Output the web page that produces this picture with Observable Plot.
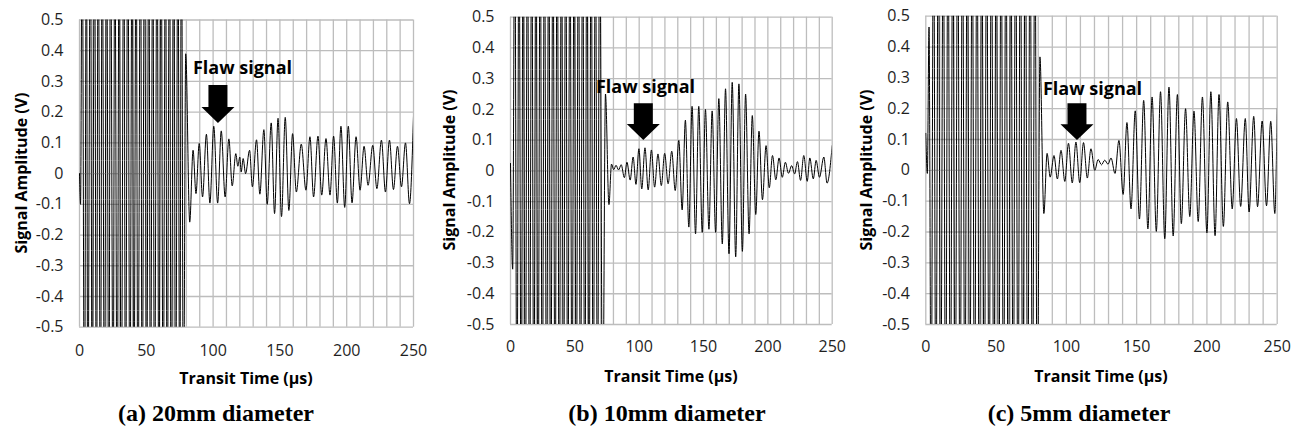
<!DOCTYPE html>
<html>
<head>
<meta charset="utf-8">
<script src="https://cdn.jsdelivr.net/npm/d3@7"></script>
<script src="https://cdn.jsdelivr.net/npm/@observablehq/plot@0.6"></script>
<style>
  html, body { margin: 0; padding: 0; background: #fff; }
  #page { position: relative; width: 1297px; height: 434px; overflow: hidden; }
  .panel { position: absolute; top: 0; overflow: hidden; }
  #titles { position: absolute; left: 0; top: 0; pointer-events: none; }
</style>
</head>
<body>
<div id="page"></div>
<script>
// ---------- data (time µs, amplitude V); ±0.9 = saturated beyond the axis ----------
const xTicks = [0, 50, 100, 150, 200, 250];
const yTicks = [-0.5, -0.4, -0.3, -0.2, -0.1, 0, 0.1, 0.2, 0.3, 0.4, 0.5];
const gridTimes = [0,10,20,30,40,50,60,70,80,90,100,110,120,130,140,150,160,170,180,190,200,210,220,230,240,250];

const captions = ["(a) 20mm diameter", "(b) 10mm diameter", "(c) 5mm diameter"];
const xTitle = "Transit Time (µs)";
const yTitle = "Signal Amplitude (V)";
const flawLabel = "Flaw signal";

const waveA = [
  [0,0],[0.8,-0.1],
  [2.0,0.9],[3.7,-0.9],[5.2,0.9],[6.2,-0.9],[8.2,0.9],[9.5,-0.9],[11.2,0.9],[12.7,-0.9],[14.0,0.9],[15.7,-0.9],
  [17.0,0.9],[18.7,-0.9],[20.2,0.9],[22.0,-0.9],[23.2,0.9],[25.2,-0.9],[26.4,0.9],[28.2,-0.9],[29.7,0.9],[31.2,-0.9],
  [33.2,0.9],[34.4,-0.9],[36.2,0.9],[37.7,-0.9],[39.4,0.9],[40.7,-0.9],[42.4,0.9],[43.7,-0.9],[45.7,0.9],[46.9,-0.9],
  [48.7,0.9],[50.2,-0.9],[51.9,0.9],[53.1,-0.9],[54.9,0.9],[56.1,-0.9],[58.1,0.9],[59.4,-0.9],[61.1,0.9],[62.6,-0.9],
  [64.4,0.9],[65.6,-0.9],[67.4,0.9],[68.6,-0.9],[70.6,0.9],[71.9,-0.9],[73.7,0.9],[75.0,-0.9],[76.3,0.9],[77.8,-0.9],
  [79.5,0.39],[82.5,-0.158],[85,0.076],[87.2,-0.065],[89.6,0.098],[92.1,-0.076],[95,0.128],[97.6,-0.096],
  [100.5,0.154],[103.4,-0.096],[106.1,0.139],[109,-0.076],[111.8,0.113],[114.3,-0.04],[117,0.065],[118.5,0.024],
  [120,0.054],[121,0.005],[122.5,0.049],[124.3,0],[127.3,0.076],[129.4,-0.043],[132.5,0.11],[135,-0.067],
  [138,0.143],[140.5,-0.1],[143.5,0.165],[146,-0.13],[148.6,0.18],[151.2,-0.14],[154,0.183],[156.7,-0.12],
  [159.5,0.13],[162.3,-0.06],[166,0.096],[169.5,-0.054],[172.5,0.12],[175.2,-0.076],[178.5,0.122],[181.3,-0.07],
  [184.5,0.114],[187.5,-0.07],[190.2,0.122],[193,-0.096],[195.7,0.154],[198.5,-0.11],[201.2,0.154],[204,-0.095],
  [207,0.12],[210,-0.054],[213,0.089],[216,-0.038],[219.5,0.092],[222.6,-0.049],[226,0.109],[229,-0.06],
  [232,0.109],[235,-0.052],[238,0.089],[241,-0.043],[244,0.1],[247,-0.098],[250,0.187]
];

const waveB = [
  [0,0.024],[1.7,-0.32],
  [3.3,0.9],[5.0,-0.9],[6.6,0.9],[8.3,-0.9],[9.9,0.9],[11.5,-0.9],[13.2,0.9],[14.8,-0.9],[16.5,0.9],[18.1,-0.9],
  [19.8,0.9],[21.4,-0.9],[23.1,0.9],[24.7,-0.9],[26.4,0.9],[28.0,-0.9],[29.7,0.9],[31.3,-0.9],[33.0,0.9],[34.6,-0.9],
  [36.3,0.9],[37.9,-0.9],[39.6,0.9],[41.2,-0.9],[42.9,0.9],[44.5,-0.9],[46.2,0.9],[47.8,-0.9],[49.5,0.9],[51.1,-0.9],
  [52.8,0.9],[54.4,-0.9],[56.1,0.9],[57.7,-0.9],[59.4,0.9],[61.0,-0.9],[62.7,0.9],[64.3,-0.9],[66.0,0.9],[67.6,-0.9],
  [69.3,0.9],[71.6,-0.9],
  [73.8,0.25],[76.5,-0.11],[78.5,0.022],[80.2,0.004],[82,0.018],[84,0.003],[86,0.02],[88.5,-0.022],
  [90.5,0.028],[93,-0.03],[95.3,0.045],[97.5,-0.044],[99.8,0.072],[102,-0.059],[104.5,0.075],[107,-0.062],
  [109.5,0.068],[112,-0.053],[114.6,0.055],[117.2,-0.048],[119.8,0.057],[122.5,-0.042],[125.3,0.064],[128,-0.064],
  [130.8,0.099],[133.4,-0.127],[135.9,0.165],[138.6,-0.183],[141.1,0.21],[143.8,-0.205],[146.3,0.21],[149,-0.2],
  [151.5,0.2],[154.2,-0.19],[156.7,0.195],[159.4,-0.2],[161.9,0.235],[164.6,-0.238],[167.1,0.267],[169.8,-0.27],
  [172.3,0.288],[175,-0.28],[177.5,0.283],[180.2,-0.262],[182.7,0.25],[185.4,-0.205],[187.9,0.18],[190.6,-0.142],
  [193.1,0.129],[195.8,-0.094],[198.6,0.082],[201.1,-0.055],[203.6,0.05],[206.2,-0.029],[208.7,0.042],[211.2,-0.021],
  [213.6,0.028],[216,-0.008],[218.5,0.017],[220.8,-0.01],[223,0.03],[225.4,-0.031],[227.9,0.05],[230.6,-0.034],
  [232.6,0.042],[235.3,-0.026],[237.5,0.034],[240.1,-0.021],[243.5,0.045],[246,-0.04],[250,0.082]
];

const waveC = [
  [0,0.12],[1.1,-0.01],[2.3,0.465],
  [3.8,-0.9],[5.5,0.9],[7.2,-0.9],[8.9,0.9],[10.6,-0.9],[12.4,0.9],[14.1,-0.9],[15.8,0.9],[17.5,-0.9],[19.2,0.9],
  [20.9,-0.9],[22.7,0.9],[24.4,-0.9],[26.1,0.9],[27.8,-0.9],[29.5,0.9],[31.3,-0.9],[33.0,0.9],[34.7,-0.9],[36.4,0.9],
  [38.1,-0.9],[39.8,0.9],[41.6,-0.9],[43.3,0.9],[45.0,-0.9],[46.7,0.9],[48.4,-0.9],[50.1,0.9],[51.9,-0.9],[53.6,0.9],
  [55.3,-0.9],[57.0,0.9],[58.7,-0.9],[60.5,0.9],[62.2,-0.9],[63.9,0.9],[65.6,-0.9],[67.3,0.9],[69.0,-0.9],[70.8,0.9],
  [72.5,-0.9],[74.2,0.9],[75.9,-0.9],[77.6,0.9],[79.3,-0.9],
  [81.2,0.368],[84,-0.14],[86.3,0.055],[88.5,-0.022],[91.2,0.048],[93.6,-0.028],[96.2,0.065],[98.9,-0.036],
  [101.5,0.088],[104.2,-0.041],[106.8,0.092],[109.5,-0.04],[112.2,0.09],[114.9,-0.025],[117.5,0.07],[120.2,0.0],
  [122.6,0.035],[125,0.018],[127.3,0.033],[129.6,0.02],[131.8,0.04],[134.6,-0.01],[137.4,0.097],[140.4,-0.078],
  [143.1,0.155],[146,-0.125],[149,0.193],[152,-0.158],[155,0.227],[158,-0.19],[161,0.238],[164,-0.198],
  [167,0.255],[170,-0.222],[173,0.27],[176,-0.213],[179,0.246],[181.8,-0.173],[184.8,0.2],[187.8,-0.15],
  [190.8,0.192],[193.8,-0.166],[196.8,0.238],[200,-0.203],[202.8,0.255],[205.8,-0.212],[208.6,0.246],[211.7,-0.182],
  [214.8,0.222],[218,-0.125],[221,0.168],[224,-0.117],[227.3,0.168],[230,-0.135],[233.3,0.175],[236,-0.118],
  [239.3,0.16],[242.4,-0.115],[245.4,0.159],[248.3,-0.14],[250,0.2]
];

// annotation anchors in data units: label position, arrow time, arrow shaft top / head base / tip
const flawA = {textT: 122.0, textV: 0.342, t: 104.0, top: 0.287, base: 0.215, tip: 0.163};
const flawB = {textT: 104.9, textV: 0.271, t: 103.6, top: 0.218, base: 0.151, tip: 0.099};
const flawC = {textT: 118.6, textV: 0.262, t: 107.9, top: 0.216, base: 0.148, tip: 0.097};

// ---------- layout ----------
const panels = [
  {data: waveA, flaw: flawA, left: 0,   width: 430, height: 365, ml: 79,   mr: 17,   mt: 19.5, mb: 38.3, xPad: 17.5},
  {data: waveB, flaw: flawB, left: 430, width: 430, height: 365, ml: 80,   mr: 28.3, mt: 16.7, mb: 41,   xPad: 16},
  {data: waveC, flaw: flawC, left: 860, width: 437, height: 365, ml: 65.3, mr: 20.3, mt: 15.7, mb: 41,   xPad: 16}
];

const page = document.getElementById("page");
const gridColor = "#bdbdbd";

panels.forEach(p => {
  const svg = Plot.plot({
    width: p.width, height: p.height,
    marginLeft: p.ml, marginRight: p.mr, marginTop: p.mt, marginBottom: p.mb,
    style: {fontFamily: "'Open Sans', sans-serif", fontSize: "16px", color: "#1f1f1f", background: "transparent"},
    x: {domain: [0, 250], ticks: xTicks, tickSize: 0, tickPadding: p.xPad, label: null, tickFormat: d => String(d)},
    y: {domain: [-0.5, 0.5], ticks: yTicks, tickSize: 0, tickPadding: 16, label: null,
        tickFormat: d => Math.abs(d) < 1e-9 ? "0" : d.toFixed(1)},
    marks: [
      Plot.ruleX(gridTimes, {stroke: gridColor, strokeWidth: 1.3}),
      Plot.ruleY(yTicks, {stroke: gridColor, strokeWidth: 1.3}),
      Plot.line(p.data, {x: d => d[0], y: d => d[1], curve: "monotone-x", stroke: "#000", strokeWidth: 1, clip: true}),
      Plot.text([p.flaw], {x: "textT", y: "textV", text: () => flawLabel, fontWeight: "bold", fontSize: 18,
                           fill: "#000", fontFamily: "'Open Sans', sans-serif"})
    ]
  });
  // block arrow placed through the plot's own scales
  const sx = svg.scale("x"), sy = svg.scale("y");
  const ax = sx.apply(p.flaw.t), yTop = sy.apply(p.flaw.top), yBase = sy.apply(p.flaw.base), yTip = sy.apply(p.flaw.tip);
  const sw = 9.5, hw = 16.5;
  d3.select(svg).append("path")
    .attr("d", `M${ax - sw},${yTop}L${ax + sw},${yTop}L${ax + sw},${yBase}L${ax + hw},${yBase}L${ax},${yTip}L${ax - hw},${yBase}L${ax - sw},${yBase}Z`)
    .attr("fill", "#000");

  const div = document.createElement("div");
  div.className = "panel";
  div.style.left = p.left + "px";
  div.style.width = p.width + "px";
  div.style.height = p.height + "px";
  div.appendChild(svg);
  page.appendChild(div);
});

// ---------- titles & captions ----------
const titles = d3.create("svg").attr("id", "titles").attr("width", 1297).attr("height", 434);
const yTitlePos = [[26.5, 173], [455, 170], [871.5, 170]];
const xTitlePos = [[246, 384.3], [671, 381.7], [1101, 381.7]];
const capPos = [[216, 420.5], [667, 420.5], [1079, 420.5]];
yTitlePos.forEach(([x, y]) => {
  titles.append("text").attr("transform", `translate(${x},${y}) rotate(-90)`).attr("text-anchor", "middle")
    .attr("font-family", "'Open Sans', sans-serif").attr("font-weight", "bold").attr("font-size", 16)
    .attr("fill", "#000").text(yTitle);
});
xTitlePos.forEach(([x, y]) => {
  titles.append("text").attr("x", x).attr("y", y).attr("text-anchor", "middle")
    .attr("font-family", "'Open Sans', sans-serif").attr("font-weight", "bold").attr("font-size", 16)
    .attr("fill", "#000").text(xTitle);
});
capPos.forEach(([x, y], i) => {
  titles.append("text").attr("x", x).attr("y", y).attr("text-anchor", "middle")
    .attr("font-family", "'Liberation Serif', 'Times New Roman', serif").attr("font-weight", "bold").attr("font-size", 24)
    .attr("fill", "#000").text(captions[i]);
});
page.appendChild(titles.node());
</script>
</body>
</html>
